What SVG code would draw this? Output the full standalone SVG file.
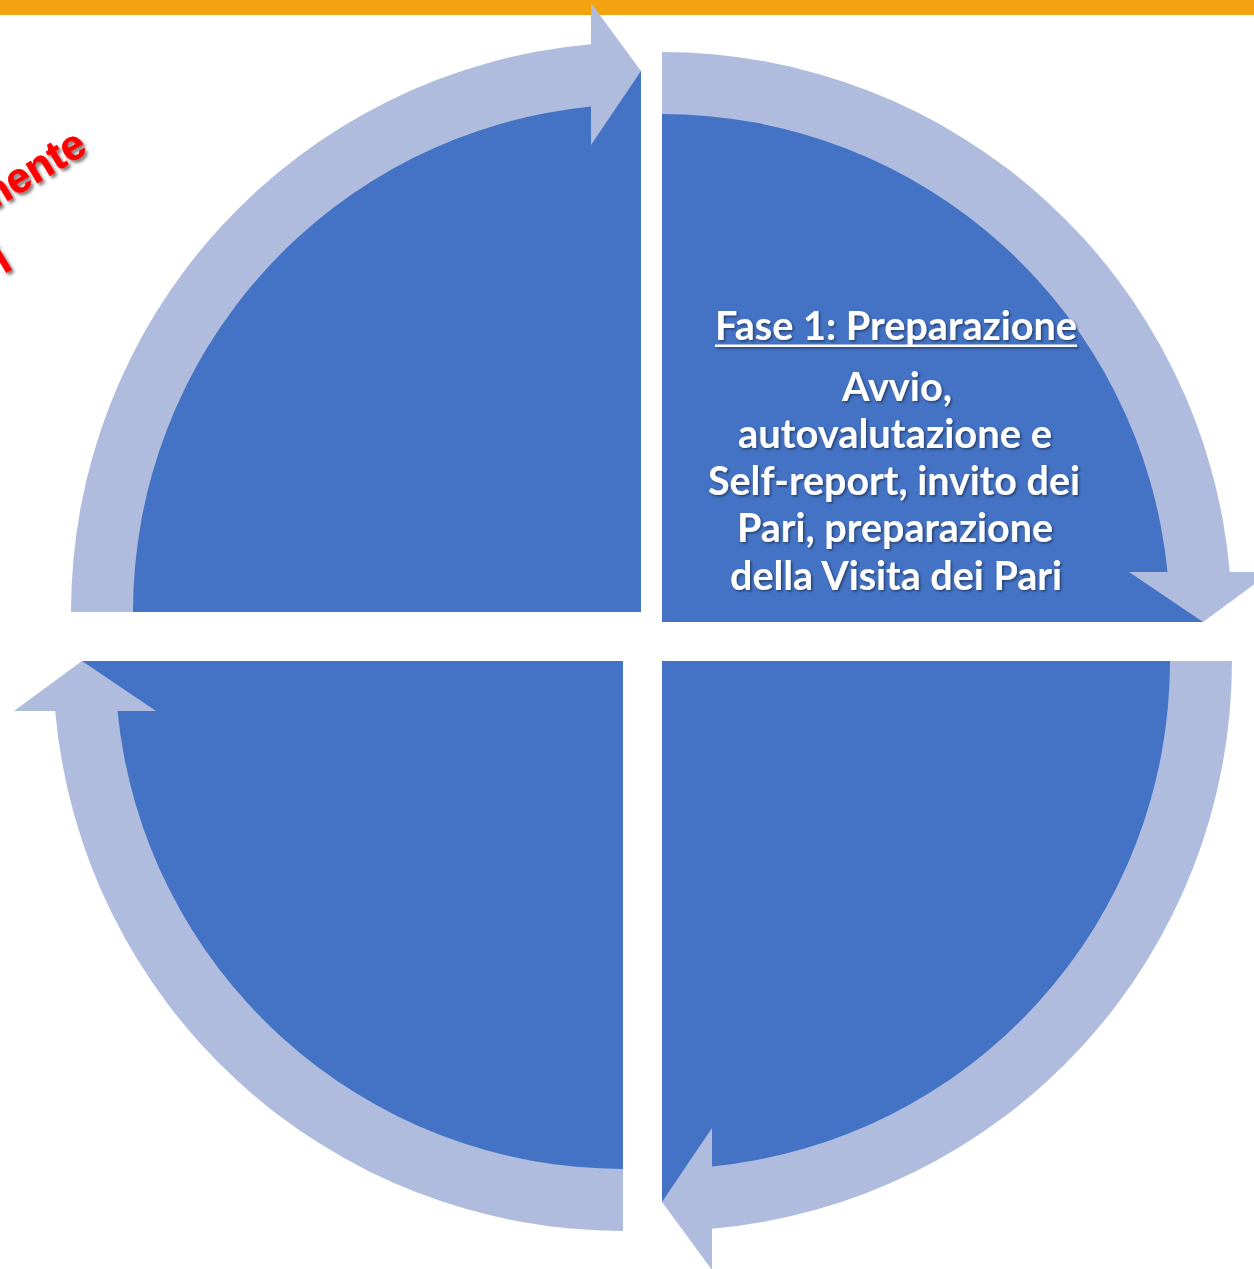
<svg xmlns="http://www.w3.org/2000/svg" width="1254" height="1269" viewBox="0 0 1254 1269">
<style>
.sector{fill:#4472C4}
.arc{fill:#AFBCDE}
.t{font-family:Lato,"Open Sans","Liberation Sans",sans-serif;font-weight:700;font-size:41px;fill:#ffffff;text-anchor:middle}
.red{font-family:"Liberation Sans",Arial,sans-serif;font-weight:700;font-size:42px;fill:#FF0000;stroke:#FF0000;stroke-width:0.8}
</style>
<defs>
<path id="sec" d="M0 0 L-541 0 A541 541 0 0 1 0 -541 Z"/>
<path id="arr" d="M-570 0 A570 570 0 0 1 -50 -567.8 L-50 -609 L0 -541 L-50 -467 L-50 -505.5 A508 508 0 0 0 -508 0 Z"/>
<filter id="ws" x="-10%" y="-30%" width="120%" height="160%">
<feDropShadow dx="1.5" dy="1.5" stdDeviation="1" flood-color="#000" flood-opacity="0.45"/>
</filter>
<filter id="rs" x="-20%" y="-20%" width="140%" height="140%">
<feDropShadow dx="2.5" dy="2.5" stdDeviation="1.5" flood-color="#444" flood-opacity="0.7"/>
</filter>
</defs>
<rect width="1254" height="1269" fill="#ffffff"/>
<rect x="0" y="0" width="1254" height="15" fill="#F2A30F"/>
<g id="red-note" filter="url(#rs)">
<text class="red" text-anchor="end" transform="translate(89,152) rotate(-31)">mente</text>
<text class="red" transform="translate(4,274) rotate(-31)">i</text>
</g>
<g id="q-tl"><use href="#sec" class="sector" transform="translate(641,612)"/></g>
<g id="q-tr"><use href="#sec" class="sector" transform="translate(662,622) rotate(90)"/></g>
<g id="q-br"><use href="#sec" class="sector" transform="translate(662,661) rotate(180)"/></g>
<g id="q-bl"><use href="#sec" class="sector" transform="translate(623,661) rotate(270)"/></g>
<g id="connectors">
<use href="#arr" class="arc" transform="translate(641,612)"/>
<use href="#arr" class="arc" transform="translate(662,622) rotate(90)"/>
<use href="#arr" class="arc" transform="translate(662,661) rotate(180)"/>
<use href="#arr" class="arc" transform="translate(623,661) rotate(270)"/>
</g>
<g id="q-tr-text" filter="url(#ws)">
<text class="t" x="896" y="340" textLength="362" lengthAdjust="spacingAndGlyphs">Fase 1: Preparazione</text>
<rect x="715" y="344.5" width="362" height="2.5" fill="#ffffff"/>
<text class="t" x="897" y="401" textLength="110" lengthAdjust="spacingAndGlyphs">Avvio,</text>
<text class="t" x="895" y="448" textLength="314" lengthAdjust="spacingAndGlyphs">autovalutazione e</text>
<text class="t" x="894" y="495" textLength="372" lengthAdjust="spacingAndGlyphs">Self-report, invito dei</text>
<text class="t" x="895" y="542" textLength="316" lengthAdjust="spacingAndGlyphs">Pari, preparazione</text>
<text class="t" x="896" y="590" textLength="332" lengthAdjust="spacingAndGlyphs">della Visita dei Pari</text>
</g>
</svg>
